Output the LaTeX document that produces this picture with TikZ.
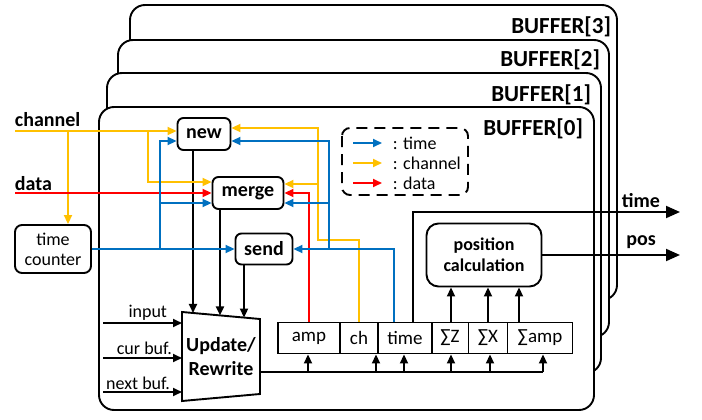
\documentclass[tikz,border=0pt]{standalone}
\usepackage{fontspec}
\setmainfont{Carlito}
\usetikzlibrary{arrows.meta}
\definecolor{cy}{HTML}{FFC000}
\definecolor{cb}{HTML}{0070C0}
\definecolor{cr}{HTML}{FF0000}
\begin{document}
\begin{tikzpicture}[x=1pt,y=-1pt, line width=1.9pt,
  >={Triangle[length=9pt,width=8pt]},
  bufbox/.style={draw, fill=white, rounded corners=15pt},
  buflabel/.style={anchor=east, font=\bfseries\fontsize{23}{25}\selectfont, inner sep=0pt},
  blk/.style={draw, fill=white, rounded corners=6pt, inner sep=0pt, font=\bfseries\fontsize{20}{22}\selectfont},
  cell/.style={draw, inner sep=0pt, minimum height=31pt, font=\fontsize{19}{21}\selectfont},
  small/.style={font=\fontsize{18}{20}\selectfont, inner sep=0pt},
  lbl/.style={font=\bfseries\fontsize{20}{22}\selectfont, inner sep=0pt},
  ylw/.style={draw=cy, ->, color=cy},
  blu/.style={draw=cb, ->, color=cb},
  red/.style={draw=cr, ->, color=cr},
  bigarrow/.style={-{Triangle[length=14pt,width=12pt]}}
]
\useasboundingbox (0,0) rectangle (702,420);

% buffers
\draw[bufbox] (130,5) rectangle (617,300);
\node[buflabel] (b3) at (612,27) {BUFFER[3]};
\draw[bufbox] (118,40) rectangle (609,337);
\node[buflabel] (b2) at (601,60) {BUFFER[2]};
\draw[bufbox] (107,73) rectangle (601,373);
\node[buflabel] (b1) at (592,95) {BUFFER[1]};
\draw[bufbox] (99,107) rectangle (594,410);
\node[buflabel] (b0) at (584,129) {BUFFER[0]};

% legend
\draw[dashed, dash pattern=on 11pt off 7pt, rounded corners=8pt] (342,128) rectangle (468,195);
\coordinate (l1a) at (353,143); \coordinate (l1b) at (382,143);
\coordinate (l2a) at (353,163); \coordinate (l2b) at (382,163);
\coordinate (l3a) at (353,183); \coordinate (l3b) at (382,183);
\draw[blu] (l1a) -- (l1b);
\draw[ylw] (l2a) -- (l2b);
\draw[red] (l3a) -- (l3b);
\node[small, anchor=west] (lt1) at (392,143) {: time};
\node[small, anchor=west] (lt2) at (392,163) {: channel};
\node[small, anchor=west] (lt3) at (392,183) {: data};

% blocks
\node[blk, minimum width=53pt, minimum height=32pt] (new) at (204,134) {new};
\node[blk, minimum width=71pt, minimum height=32pt] (merge) at (248,193) {merge};
\node[blk, minimum width=57pt, minimum height=31pt] (send) at (264,249) {send};
\node[draw, fill=white, rounded corners=7pt, minimum width=76pt, minimum height=48pt, inner sep=0pt, align=center, font=\fontsize{18}{20}\selectfont] (tcount) at (53,249) {time\\counter};
\node[draw, fill=white, rounded corners=12pt, minimum width=115pt, minimum height=63pt, inner sep=0pt, align=center, font=\bfseries\fontsize{18}{21}\selectfont] (pc) at (484,255) {position\\calculation};

% register cells
\node[cell, minimum width=62pt] (amp) at (309,338) {amp};
\node[cell, minimum width=37pt] (ch) at (359,338) {ch};
\node[cell, minimum width=54pt] (tcell) at (405,338) {time};
\node[cell, minimum width=37pt] (sz) at (450,338) {∑Z};
\node[cell, minimum width=39pt] (sx) at (488,338) {∑X};
\node[cell, minimum width=65pt] (sa) at (540,338) {∑amp};

% update / rewrite
\coordinate (ua) at (182,312); \coordinate (ub) at (260,319);
\coordinate (uc) at (260,394); \coordinate (ud) at (182,401);
\draw[line join=miter, fill=white] (ua) -- (ub) -- (uc) -- (ud) -- cycle;
\node[font=\bfseries\fontsize{20}{24}\selectfont, align=center, inner sep=0pt] (upd) at (221,357) {Update/\\Rewrite};
\path (ua) -- (ub) coordinate[pos=0.141] (t1) coordinate[pos=0.487] (t2) coordinate[pos=0.795] (t3);

% inputs of update
\coordinate (in1) at (103,323); \coordinate (in1e) at (182,323);
\coordinate (in2) at (103,358); \coordinate (in2e) at (182,358);
\coordinate (in3) at (103,392); \coordinate (in3e) at (182,392);
\draw[->] (in1) -- (in1e);
\draw[->] (in2) -- (in2e);
\draw[->] (in3) -- (in3e);
\node[small, anchor=east] (tin1) at (168,313) {input};
\node[small, anchor=east] (tin2) at (173,348) {cur buf.};
\node[small, anchor=east] (tin3) at (171,383) {next buf.};

% block outputs into update
\draw[->] (new.south -| t1) -- (t1);
\draw[->] (merge.south -| t2) -- (t2);
\draw[->] (send.south -| t3) -- (t3);

% bus
\coordinate (bus0) at (260,372);
\coordinate (bx1) at (308,372); \coordinate (bx2) at (376,372);
\coordinate (bx3) at (404,372); \coordinate (bx4) at (451,372);
\coordinate (bx5) at (490,372); \coordinate (bx6) at (543,372);
\draw (bus0) -- (bx6);
\draw[->] (bx1) -- (amp.south -| bx1);
\draw[->] (bx2) -- (ch.south -| bx2);
\draw[->] (bx3) -- (tcell.south -| bx3);
\draw[->] (bx4) -- (sz.south -| bx4);
\draw[->] (bx5) -- (sx.south -| bx5);
\draw[->] (bx6) -- (sa.south -| bx6);

% position calculation inputs
\coordinate (p1) at (451,322); \coordinate (p2) at (488,322); \coordinate (p3) at (519,322);
\draw[->] (p1) -- (pc.south -| p1);
\draw[->] (p2) -- (pc.south -| p2);
\draw[->] (p3) -- (pc.south -| p3);

% outputs
\coordinate (to1) at (413,212); \coordinate (tout) at (680,212);
\draw[bigarrow] (tcell.north -| to1) -- (to1) -- (tout);
\coordinate (pout) at (680,255);
\draw[bigarrow] (pc.east) -- (pout);
\node[lbl] (tlab) at (641,201) {time};
\node[lbl] (plab) at (641,242) {pos};

% channel (yellow)
\coordinate (chin) at (15,131);
\coordinate (cb1) at (68,131);
\coordinate (cb2) at (148,131); \coordinate (cb3) at (148,182);
\draw[ylw] (chin) -- (new.west |- chin);
\draw[ylw] (cb1) -- (tcount.north -| cb1);
\draw[ylw] (cb2) -- (cb3) -- (merge.west |- cb3);
\coordinate (cy1) at (359,240); \coordinate (cy2) at (318,240);
\coordinate (cy3) at (318,128); \coordinate (cy4) at (318,184);
\draw[ylw] (ch.north) -- (cy1) -- (cy2) -- (cy3) -- (new.east |- cy3);
\draw[ylw] (cy4) -- (merge.east |- cy4);
\node[lbl, anchor=west] (chlab) at (14,120) {channel};

% data (red)
\coordinate (din) at (15,193);
\draw[red] (din) -- (merge.west);
\coordinate (dr1) at (309,193);
\draw[red] (amp.north) -- (dr1) -- (merge.east);
\node[lbl, anchor=west] (dlab) at (14,184) {data};

% time (blue)
\draw[blu] (tcount.east) -- (send.west);
\coordinate (bb1) at (160,249); \coordinate (bb2) at (160,141); \coordinate (bb3) at (160,203);
\draw[blu] (bb1) -- (bb2) -- (new.west |- bb2);
\draw[blu] (bb3) -- (merge.west |- bb3);
\coordinate (br1) at (394,249); \coordinate (br2) at (329,249);
\coordinate (br3) at (329,141); \coordinate (br4) at (329,203);
\draw[blu] (tcell.north -| br1) -- (br1) -- (send.east);
\draw[blu] (br2) -- (br3) -- (new.east |- br3);
\draw[blu] (br4) -- (merge.east |- br4);
\end{tikzpicture}
\end{document}
